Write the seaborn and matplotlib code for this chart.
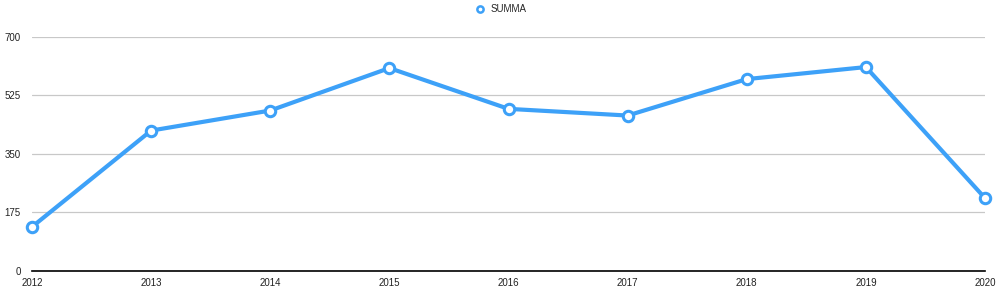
import matplotlib
matplotlib.use("Agg")
import matplotlib.pyplot as plt
import seaborn as sns
import pandas as pd

years = [2012, 2013, 2014, 2015, 2016, 2017, 2018, 2019, 2020]
summa = [132, 420, 480, 607, 485, 465, 574, 610, 218]
y_ticks = [0, 175, 350, 525, 700]
series_name = "SUMMA"

sns.set_theme(style="white")
plt.rcParams['font.family'] = ['Liberation Sans', 'DejaVu Sans']

df = pd.DataFrame({"year": years, "value": summa, "series": series_name})

fig = plt.figure(figsize=(10, 2.9), dpi=100)
ax = fig.add_axes([0.032, 0.0655, 0.953, 0.807])

blue = "#3DA1F8"
sns.lineplot(data=df, x="year", y="value", hue="series", palette=[blue], ax=ax,
             linewidth=3, marker="o", markersize=7.5, markerfacecolor="white",
             markeredgecolor=blue, markeredgewidth=2.2, clip_on=False, zorder=5)

ax.set_xlim(2012, 2020)
ax.set_ylim(0, 700)
ax.set_yticks(y_ticks)
ax.set_xticks(years)
ax.set_xticklabels([str(y) for y in years])
ax.set_yticklabels([str(t) for t in y_ticks])
ax.set_xlabel("")
ax.set_ylabel("")
ax.yaxis.grid(True, color="#c8c8c8", linewidth=0.9)
ax.set_axisbelow(True)
for s in ["top", "right", "left"]:
    ax.spines[s].set_visible(False)
ax.spines["bottom"].set_color("black")
ax.spines["bottom"].set_linewidth(1.2)
ax.tick_params(axis="both", length=0, labelsize=7, colors="#222222")
ax.tick_params(axis="y", pad=8)
ax.tick_params(axis="x", pad=5)

ax.legend_.remove()
handle = plt.Line2D([], [], color=blue, marker="o", linestyle="none", markersize=4.5,
                    markerfacecolor="white", markeredgecolor=blue, markeredgewidth=1.8)
fig.legend([handle], [series_name], loc="center", bbox_to_anchor=(0.498, 1 - 9 / 290),
           frameon=False, fontsize=7, handletextpad=0.1, borderaxespad=0)

fig.savefig("out.png", dpi=100, facecolor="white")
